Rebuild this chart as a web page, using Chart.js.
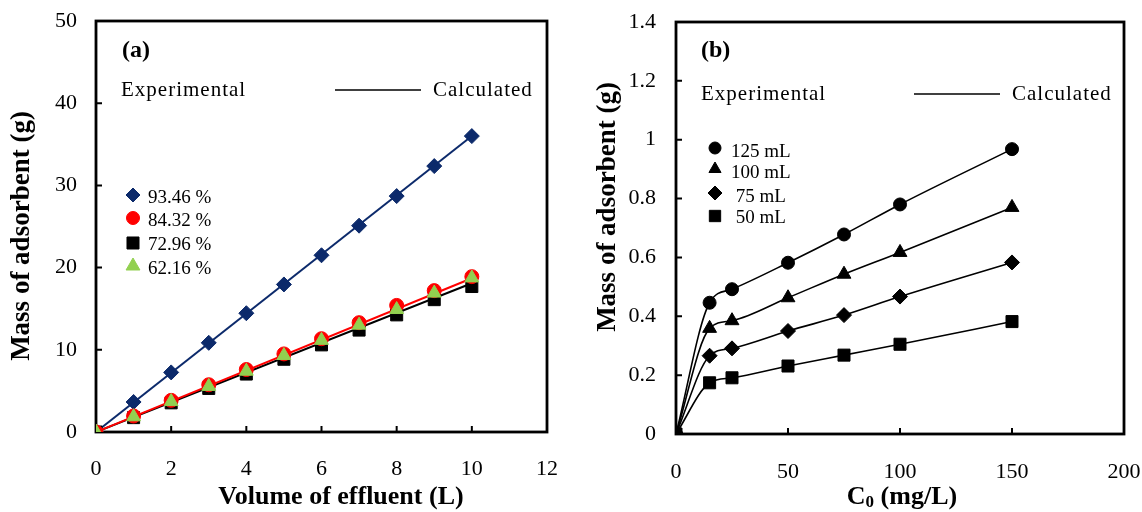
<!DOCTYPE html>
<html>
<head>
<meta charset="utf-8">
<script src="https://cdn.jsdelivr.net/npm/chart.js@4.4.1/dist/chart.umd.min.js"></script>
<style>
  body { margin: 0; background: #fff; }
  .panel { position: absolute; top: 0; width: 571px; height: 512px; }
</style>
</head>
<body>
<div class="panel" style="left:0"><canvas id="chartA" width="571" height="512"></canvas></div>
<div class="panel" style="left:571px"><canvas id="chartB" width="571" height="512"></canvas></div>
<script>
// ---- panel (a): mass of adsorbent vs volume of effluent ----
const volumes = [0, 1, 2, 3, 4, 5, 6, 7, 8, 9, 10];
const exp9346 = [0, 3.65, 7.25, 10.85, 14.45, 17.95, 21.5, 25.1, 28.7, 32.35, 36.0];
const exp8432 = [0, 1.95, 3.85, 5.75, 7.6, 9.5, 11.35, 13.3, 15.4, 17.2, 18.9];
const exp7296 = [0, 1.75, 3.55, 5.3, 7.05, 8.85, 10.6, 12.4, 14.25, 16.1, 17.7];
const exp6216 = [0, 1.85, 3.7, 5.55, 7.4, 9.3, 11.15, 13.0, 14.9, 16.9, 18.75];
const calcVolumes = [0, 10];
const calc9346 = [0, 36.0];
const calc8432 = [0, 18.7];
const calc7296 = [0, 18.1];
const ticksA_x = [0, 12, 2];
const ticksA_y = [0, 50, 10];

// ---- panel (b): mass of adsorbent vs C0 ----
const conc = [0, 15, 25, 50, 75, 100, 150];
const vol125 = [0, 0.446, 0.492, 0.582, 0.678, 0.78, 0.968];
const vol100 = [0, 0.359, 0.385, 0.463, 0.543, 0.617, 0.77];
const vol75 = [0, 0.266, 0.291, 0.35, 0.404, 0.467, 0.583];
const vol50 = [0, 0.174, 0.191, 0.231, 0.268, 0.305, 0.382];
const ticksB_x = [0, 200, 50];
const ticksB_y = [0, 1.4, 0.2];

const SERIF = '"Liberation Serif", "Times New Roman", serif';
Chart.defaults.font.family = SERIF;
Chart.defaults.font.size = 22;
Chart.defaults.color = '#000';

const xy = (xs, ys) => xs.map((x, i) => ({ x, y: ys[i] }));

function points(label, xs, ys, style, color, radius, order, line) {
  return {
    label, data: xy(xs, ys), order,
    pointStyle: style, pointRadius: radius, pointHoverRadius: radius,
    pointBackgroundColor: color, pointBorderColor: color, pointBorderWidth: 1,
    showLine: !!line, borderColor: line || color, borderWidth: 1.6,
    cubicInterpolationMode: 'monotone'
  };
}

function calcLine(xs, ys, color, order) {
  return {
    label: 'calc', data: xy(xs, ys), order,
    showLine: true, pointRadius: 0, borderColor: color, borderWidth: 2
  };
}

const framePlugin = {
  id: 'frame',
  beforeDatasetsDraw(chart) {
    const { ctx, chartArea: a, scales } = chart;
    ctx.save();
    ctx.strokeStyle = '#000';
    ctx.lineWidth = 2.8;
    ctx.strokeRect(a.left, a.top, a.right - a.left, a.bottom - a.top);
    ctx.lineWidth = 2;
    ctx.beginPath();
    scales.x.ticks.forEach(t => {
      const px = scales.x.getPixelForValue(t.value);
      ctx.moveTo(px, a.bottom); ctx.lineTo(px, a.bottom - 6);
    });
    scales.y.ticks.forEach(t => {
      const py = scales.y.getPixelForValue(t.value);
      ctx.moveTo(a.left, py); ctx.lineTo(a.left + 6, py);
    });
    ctx.stroke();
    ctx.restore();
  }
};

function drawRich(ctx, parts, cx, cy, rotate) {
  ctx.save();
  ctx.translate(cx, cy);
  if (rotate) ctx.rotate(-Math.PI / 2);
  let total = 0;
  parts.forEach(p => { ctx.font = `bold ${p.size}px ${SERIF}`; total += ctx.measureText(p.t).width; });
  let x = -total / 2;
  ctx.textBaseline = 'middle';
  ctx.textAlign = 'left';
  parts.forEach(p => {
    ctx.font = `bold ${p.size}px ${SERIF}`;
    ctx.fillText(p.t, x, p.dy || 0);
    x += ctx.measureText(p.t).width;
  });
  ctx.restore();
}

const notesPlugin = {
  id: 'notes',
  afterDraw(chart, args, o) {
    const ctx = chart.ctx;
    ctx.save();
    ctx.fillStyle = '#000';
    // panel letter
    ctx.font = `bold 24px ${SERIF}`;
    ctx.textBaseline = 'middle';
    ctx.fillText(o.letter, o.letterX, o.letterY);
    // experimental / calculated key
    ctx.font = `21px ${SERIF}`;
    ctx.letterSpacing = '1px';
    ctx.fillText('Experimental', o.keyX, o.keyY);
    ctx.fillText('Calculated', o.calcX, o.keyY);
    ctx.letterSpacing = '0px';
    ctx.strokeStyle = '#000';
    ctx.lineWidth = 1.5;
    ctx.beginPath();
    ctx.moveTo(o.lineX0, o.keyY); ctx.lineTo(o.lineX1, o.keyY);
    ctx.stroke();
    // series legend
    o.legend.forEach(row => {
      const ds = chart.data.datasets[row.ds];
      ctx.fillStyle = ds.pointBackgroundColor;
      ctx.strokeStyle = ds.pointBorderColor;
      ctx.lineWidth = 1;
      Chart.helpers.drawPoint(ctx, { pointStyle: ds.pointStyle, radius: row.r, rotation: 0, borderWidth: 1 }, o.markX, row.y);
      ctx.fillStyle = '#000';
      ctx.font = `19px ${SERIF}`;
      ctx.fillText(ds.label, o.textX, row.y + row.dy);
    });
    ctx.restore();
    // axis titles
    ctx.fillStyle = '#000';
    drawRich(ctx, o.xTitle, o.xTitleX, o.xTitleY, false);
    drawRich(ctx, o.yTitle, o.yTitleX, o.yTitleY, true);
  }
};

function makeChart(id, datasets, xr, yr, box, notes, fmt) {
  return new Chart(document.getElementById(id), {
    type: 'scatter',
    data: { datasets },
    plugins: [framePlugin, notesPlugin],
    options: {
      responsive: false, animation: false, devicePixelRatio: 1,
      layout: { padding: { left: 0, right: box.right, top: box.top, bottom: 0 } },
      plugins: { legend: { display: false }, tooltip: { enabled: false }, notes },
      scales: {
        x: {
          type: 'linear', min: xr[0], max: xr[1],
          ticks: { stepSize: xr[2], padding: box.xPad },
          grid: { display: false, drawTicks: false }, border: { display: false },
          afterFit: s => { s.height = box.xHeight; s.paddingLeft = 0; s.paddingRight = 0; }
        },
        y: {
          type: 'linear', min: yr[0], max: yr[1],
          ticks: { stepSize: yr[2], padding: box.yPad, callback: fmt },
          grid: { display: false, drawTicks: false }, border: { display: false },
          afterFit: s => { s.width = box.yWidth; s.paddingTop = 0; s.paddingBottom = 0; }
        }
      }
    }
  });
}

const yTitle = [{ t: 'Mass of adsorbent (g)', size: 27 }];

makeChart('chartA', [
  points('93.46 %', volumes, exp9346, 'rectRot', '#0c2a6b', 7.5, 7),
  points('84.32 %', volumes, exp8432, 'circle', '#ff0000', 7, 3),
  points('72.96 %', volumes, exp7296, 'rect', '#000000', 8.5, 5),
  points('62.16 %', volumes, exp6216, 'triangle', '#92d050', 8, 1),
  calcLine(calcVolumes, calc9346, '#0c2a6b', 6),
  calcLine(calcVolumes, calc8432, '#ff0000', 2),
  calcLine(calcVolumes, calc7296, '#000000', 4)
], ticksA_x, ticksA_y,
  { right: 24, top: 21, xHeight: 80, yWidth: 96, xPad: 24, yPad: 19 },
  {
    letter: '(a)', letterX: 122, letterY: 51,
    keyX: 121, keyY: 90, lineX0: 335, lineX1: 421, calcX: 433,
    markX: 133, textX: 148,
    legend: [{ ds: 0, y: 195, r: 7, dy: 3 }, { ds: 1, y: 218, r: 6.5, dy: 3 }, { ds: 2, y: 243, r: 8.5, dy: 2 }, { ds: 3, y: 266, r: 8, dy: 3 }],
    xTitle: [{ t: 'Volume of effluent (L)', size: 26 }], xTitleX: 341, xTitleY: 497,
    yTitle, yTitleX: 22, yTitleY: 236
  }, v => v);

makeChart('chartB', [
  points('125 mL', conc, vol125, 'circle', '#000000', 6.5, 1, '#000000'),
  points('100 mL', conc, vol100, 'triangle', '#000000', 8, 2, '#000000'),
  points(' 75 mL', conc, vol75, 'rectRot', '#000000', 7.5, 3, '#000000'),
  points(' 50 mL', conc, vol50, 'rect', '#000000', 8.5, 4, '#000000')
], ticksB_x, ticksB_y,
  { right: 18, top: 22, xHeight: 78, yWidth: 105, xPad: 25, yPad: 20 },
  {
    letter: '(b)', letterX: 130, letterY: 51,
    keyX: 130, keyY: 94, lineX0: 343, lineX1: 429, calcX: 441,
    markX: 144, textX: 160,
    legend: [{ ds: 0, y: 148, r: 6, dy: 4 }, { ds: 1, y: 169, r: 7, dy: 4 }, { ds: 2, y: 193, r: 7, dy: 4 }, { ds: 3, y: 216, r: 8, dy: 2 }],
    xTitle: [{ t: 'C', size: 26 }, { t: '0', size: 17, dy: 6 }, { t: ' (mg/L)', size: 26 }], xTitleX: 331, xTitleY: 497,
    yTitle, yTitleX: 37, yTitleY: 207
  }, v => String(Math.round(v * 10) / 10));
</script>
</body>
</html>
